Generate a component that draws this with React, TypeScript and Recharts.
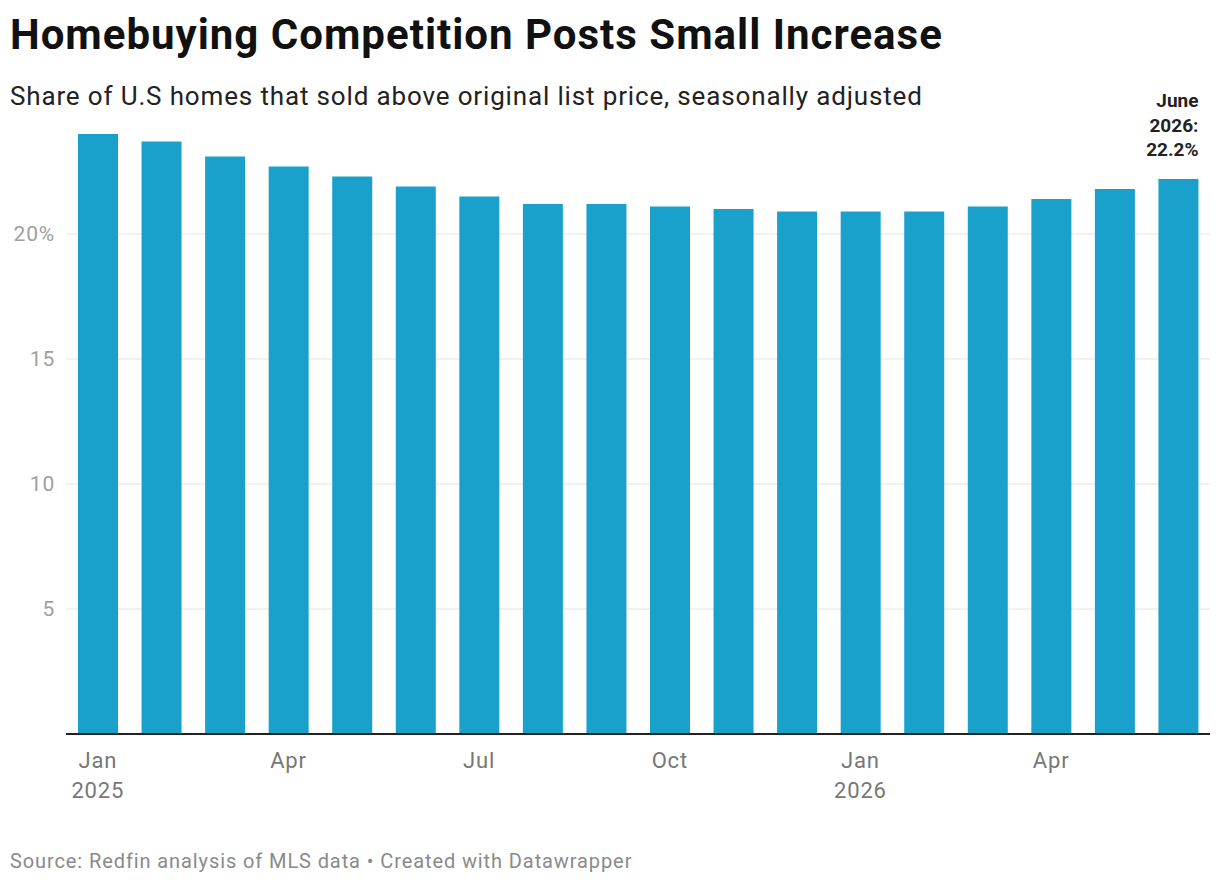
import React from 'react';
import { BarChart, Bar, XAxis, YAxis, CartesianGrid, ReferenceLine } from 'recharts';

const months = ['Jan', 'Feb', 'Mar', 'Apr', 'May', 'Jun', 'Jul', 'Aug', 'Sep', 'Oct', 'Nov', 'Dec', 'Jan', 'Feb', 'Mar', 'Apr', 'May', 'Jun'];
const years = ['2025', '', '', '', '', '', '', '', '', '', '', '', '2026', '', '', '', '', ''];
const shareAboveList = [24.0, 23.7, 23.1, 22.7, 22.3, 21.9, 21.5, 21.2, 21.2, 21.1, 21.0, 20.9, 20.9, 20.9, 21.1, 21.4, 21.8, 22.2];
const yTicks = [5, 10, 15, 20];
const yMax = 24;
const tickEvery = 3;

const data = months.map((m, i) => ({ key: i, month: m, year: years[i], value: shareAboveList[i] }));

const FONT = 'Roboto, "Noto Sans", sans-serif';

const MonthTick = ({ x, y, payload }: any) => {
  const i = payload.value as number;
  if (i % tickEvery !== 0) return null;
  const d = data[i];
  return (
    <g fontFamily={FONT} fontSize={22} fill="#777" textAnchor="middle" letterSpacing={0.8}>
      <text x={x} y={y + 26}>{d.month}</text>
      {d.year && <text x={x} y={y + 56}>{d.year}</text>}
    </g>
  );
};

const LastLabel = (props: any) => {
  const { x, y, width, index, value } = props;
  if (index !== data.length - 1) return null;
  const right = x + width;
  return (
    <g fontFamily={FONT} fontSize={19} fontWeight="bold" fill="#222" textAnchor="end">
      <text x={right} y={y - 72}>June</text>
      <text x={right} y={y - 47}>2026:</text>
      <text x={right} y={y - 23}>{value}%</text>
    </g>
  );
};

// grid lines only at the labelled ticks, drawn behind the bars
const gridRows = ({ offset }: any) => yTicks.map((t) => offset.top + offset.height * (1 - t / yMax));

export default function App() {
  return (
    <div style={{ position: 'relative', width: 1220, height: 886, background: '#fff', fontFamily: FONT }}>
      <style>{`body{margin:0}`}</style>
      <div style={{ position: 'absolute', left: 10, top: 10, fontSize: 42, fontWeight: 700, color: '#111', lineHeight: '50px', letterSpacing: 1, whiteSpace: 'nowrap' }}>
        Homebuying Competition Posts Small Increase
      </div>
      <div style={{ position: 'absolute', left: 10, top: 80, fontSize: 26, color: '#222', lineHeight: '32px', letterSpacing: 0.85, whiteSpace: 'nowrap' }}>
        Share of U.S homes that sold above original list price, seasonally adjusted
      </div>
      <div style={{ position: 'absolute', top: 0, left: 0 }}>
        <BarChart width={1220} height={886} data={data} margin={{ top: 134, right: 10, bottom: 72, left: 0 }} barSize={40}>
          <CartesianGrid vertical={false} stroke="#e3e3e3" horizontalCoordinatesGenerator={gridRows} />
          <XAxis dataKey="key" tick={<MonthTick />} tickLine={false} axisLine={false} interval={0} height={80} />
          <YAxis
            domain={[0, yMax]}
            ticks={yTicks}
            width={66}
            tickLine={false}
            axisLine={false}
            tickMargin={5}
            tick={{ fontSize: 21, fill: '#a0a0a0', fontFamily: FONT, letterSpacing: 0.8 }}
            tickFormatter={(v: number) => (v === 20 ? '20%' : String(v))}
          />
          <Bar dataKey="value" fill="#19a1cc" isAnimationActive={false} label={<LastLabel />} />
          <ReferenceLine y={0} stroke="#222" strokeWidth={2} />
        </BarChart>
      </div>
      <div style={{ position: 'absolute', left: 10, top: 848, fontSize: 20, color: '#8a8a8a', lineHeight: '26px', letterSpacing: 0.9, whiteSpace: 'nowrap' }}>
        Source: Redfin analysis of MLS data • Created with Datawrapper
      </div>
    </div>
  );
}
